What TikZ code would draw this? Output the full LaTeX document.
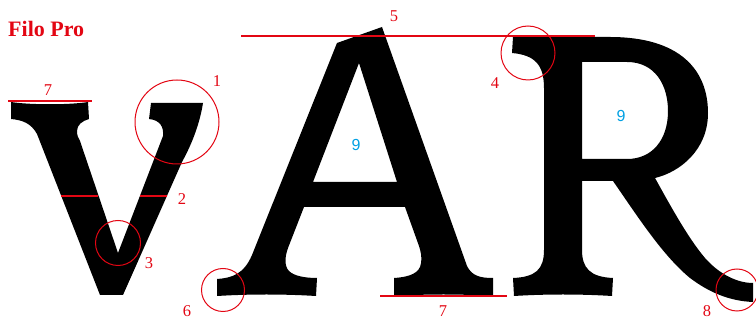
\documentclass[tikz,border=0pt]{standalone}
\usepackage{fontspec}
\setmainfont{Liberation Serif}
\newfontfamily\labsans{Liberation Sans}
\definecolor{annred}{RGB}{227,6,19}
\definecolor{annblue}{RGB}{0,160,227}
\begin{document}
\begin{tikzpicture}[x=1pt,y=-1pt,
  glyph/.style={fill=black,draw=none,even odd rule},
  ring/.style={draw=annred,line width=1pt},
  guide/.style={draw=annred,line width=1.1pt},
  num/.style={text=annred,font=\fontsize{16.5}{16.5}\selectfont,inner sep=0pt},
  cnt/.style={text=annblue,font=\labsans\fontsize{16}{16}\selectfont,inner sep=0pt}]
\useasboundingbox (0,0) rectangle (756,320);

% ---- glyph v ----
\fill[glyph] (11,102) .. controls (30,105) and (70,105) .. (88,102)
  -- (89,119) .. controls (82,121) and (77,125) .. (77,131)
  .. controls (77,135) and (78,138) .. (80,141)
  -- (118,253) -- (163,136)
  .. controls (164,127) and (160,120) .. (149,119)
  -- (151,103) -- (203,103)
  .. controls (200,122) and (193,142) .. (182,162)
  -- (123,295) -- (100,295) -- (37,134)
  .. controls (31,123) and (22,120) .. (11,119) -- cycle;

% ---- glyph A ----
\fill[glyph] (337,43) -- (382,27) -- (467,266)
  .. controls (472,276) and (480,278) .. (493,278)
  -- (493,296) .. controls (460,294) and (427,294) .. (394,296)
  -- (394,278) .. controls (410,277) and (420,273) .. (421,263)
  .. controls (422,258) and (421,252) .. (419,246)
  -- (405,207) -- (304,207) -- (288,248)
  .. controls (285,256) and (284,266) .. (289,271)
  .. controls (294,276) and (305,278) .. (317,278)
  -- (316,296) .. controls (283,294) and (250,294) .. (217,296)
  -- (217,279) .. controls (232,278) and (244,274) .. (252,255) -- cycle
  (359,63) -- (397,182) -- (313,182) -- cycle;

% ---- glyph R ----
\fill[glyph] (513,37) -- (610,37)
  .. controls (680,37) and (708,70) .. (708,113)
  .. controls (708,150) and (680,172) .. (655,178)
  .. controls (670,205) and (688,238) .. (705,258)
  .. controls (720,275) and (738,283) .. (753,283)
  -- (753,302)
  .. controls (730,301) and (710,293) .. (690,278)
  .. controls (662,255) and (636,214) .. (613,181)
  -- (582,181) -- (582,250)
  .. controls (582,268) and (590,277) .. (613,278)
  -- (612,296) .. controls (580,294) and (546,294) .. (514,296)
  -- (513,278) .. controls (535,277) and (544,270) .. (544,250)
  -- (544,88) .. controls (544,65) and (535,55) .. (512,53) -- cycle
  (582,62) -- (627,62) .. controls (655,62) and (668,85) .. (668,111)
  .. controls (668,140) and (652,159) .. (627,159) -- (582,159) -- cycle;

% ---- title ----
\node[anchor=base west,inner sep=0pt,text=annred,font=\bfseries\fontsize{22}{22}\selectfont] (title) at (8,37) {Filo Pro};

% ---- guide lines ----
\coordinate (l7a) at (8,101);   \coordinate (l7b) at (92,101);
\draw[guide] (l7a) -- (l7b);
\coordinate (l2a) at (61,196);  \coordinate (l2b) at (98,196);
\coordinate (l2c) at (140,196); \coordinate (l2d) at (167,196);
\draw[guide] (l2a) -- (l2b);
\draw[guide] (l2c) -- (l2d);
\coordinate (l5a) at (241,36);  \coordinate (l5b) at (595,36);
\draw[guide,line width=1.4pt] (l5a) -- (l5b);
\coordinate (b7a) at (380,296); \coordinate (b7b) at (507,296);
\draw[guide] (b7a) -- (b7b);

% ---- circles ----
\draw[ring] (177,122) circle[radius=42pt];
\draw[ring] (118,243) circle[radius=22.5pt];
\draw[ring] (223,290) circle[radius=21.5pt];
\draw[ring] (528,53) circle[radius=27pt];
\draw[ring] (737,290) circle[radius=21pt];

% ---- labels ----
\node[num] (n7a) at (48,90) {7};
\node[num] (n1) at (217,81) {1};
\node[num] (n2) at (182,199) {2};
\node[num] (n3) at (149,263) {3};
\node[num] (n6) at (187,311) {6};
\node[num] (n5) at (394,16) {5};
\node[num] (n4) at (495,83) {4};
\node[num] (n7b) at (443,311.5) {7};
\node[num] (n8) at (707,311) {8};
\node[cnt] (c1) at (356,145) {9};
\node[cnt] (c2) at (621,116) {9};
\end{tikzpicture}
\end{document}
